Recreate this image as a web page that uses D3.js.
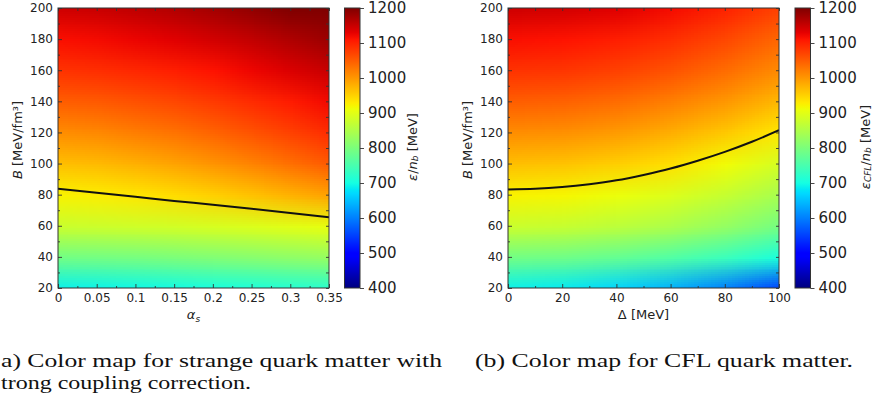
<!DOCTYPE html>
<html>
<head>
<meta charset="utf-8">
<script src="https://cdn.jsdelivr.net/npm/d3@7"></script>
<style>
  body { margin: 0; background: #fff; }
  svg { display: block; }
</style>
</head>
<body>
<div id="chart"></div>
<script>
// ---- data ----
// bag constant rows, bottom to top [MeV/fm^3]
const bRows = [20, 40, 60, 80, 100, 120, 140, 160, 180, 200]

// (a) strong coupling: alpha_s columns, eps/n_b [MeV] per column (bottom to top)
const alphaCols = [0, 0.05, 0.1, 0.15, 0.2, 0.25, 0.3, 0.35]
const epsAlpha = [
  [690, 790, 875, 922, 965, 1008, 1048, 1085, 1115, 1145],
  [692, 792, 877, 926, 970, 1012, 1052, 1089, 1119, 1149],
  [695, 795, 880, 932, 978, 1021, 1059, 1095, 1125, 1156],
  [698, 800, 883, 941, 989, 1031, 1068, 1103, 1133, 1165],
  [703, 805, 888, 951, 1002, 1043, 1079, 1113, 1143, 1175],
  [708, 811, 893, 963, 1016, 1058, 1092, 1124, 1154, 1187],
  [714, 818, 899, 976, 1033, 1073, 1105, 1137, 1167, 1201],
  [720, 825, 905, 990, 1050, 1090, 1120, 1150, 1180, 1215]
]
// 930 MeV stability line
const alphaLineX = [0, 0.05, 0.1, 0.15, 0.2, 0.25, 0.3, 0.35]
const alphaLineB = [83.8, 81.2, 78.6, 76.0, 73.5, 70.9, 68.2, 65.4]

// (b) CFL: gap columns [MeV], eps_CFL/n_b [MeV] per column (bottom to top)
const deltaCols = [0, 20, 40, 60, 80, 100]
const epsDelta = [
  [690, 790, 875, 922, 965, 1008, 1048, 1085, 1115, 1145],
  [684, 787, 872, 919, 962, 1005, 1045, 1082, 1112, 1142],
  [667, 776, 862, 909, 952, 996, 1036, 1073, 1103, 1133],
  [639, 759, 846, 893, 937, 980, 1020, 1058, 1088, 1118],
  [599, 736, 823, 871, 914, 958, 999, 1036, 1067, 1098],
  [548, 705, 793, 842, 886, 930, 971, 1009, 1040, 1071]
]
const deltaLineX = [0, 10, 20, 30, 40, 50, 60, 70, 80, 90, 100]
const deltaLineB = [83.4, 83.8, 84.9, 86.7, 89.2, 92.7, 96.8, 101.8, 107.5, 114.0, 121.4]

// ticks
const bTicks = [20, 40, 60, 80, 100, 120, 140, 160, 180, 200]
const alphaTicks = [0, 0.05, 0.1, 0.15, 0.2, 0.25, 0.3, 0.35]
const deltaTicks = [0, 20, 40, 60, 80, 100]
const cbarTicks = [400, 500, 600, 700, 800, 900, 1000, 1100, 1200]

// ---- jet colormap (matplotlib segments) ----
const chan = pts => d3.scaleLinear().domain(pts.map(p => p[0])).range(pts.map(p => p[1])).clamp(true)
const jr = chan([[0, 0], [0.35, 0], [0.66, 1], [0.89, 1], [1, 0.5]])
const jg = chan([[0, 0], [0.125, 0], [0.375, 1], [0.64, 1], [0.91, 0], [1, 0]])
const jb = chan([[0, 0.5], [0.11, 1], [0.34, 1], [0.65, 0], [1, 0]])
const norm = d3.scaleLinear().domain([400, 1200]).range([0, 1]).clamp(true)
const color = v => {
  const t = norm(v)
  return d3.rgb(jr(t) * 255, jg(t) * 255, jb(t) * 255)
}

const W = 873, H = 403
const svg = d3.select('#chart').append('svg')
  .attr('width', W).attr('height', H)
  .style('background', '#fff')

const FONT = 'DejaVu Sans'
const styleAxis = (sel, size) => {
  sel.select('.domain').remove()
  sel.selectAll('line').attr('stroke', '#333').attr('stroke-width', 0.9)
  sel.selectAll('text').attr('font-family', FONT).attr('font-size', size).attr('fill', '#222')
}
const minorOf = ticks => d3.range(ticks.length - 1).map(i => (ticks[i] + ticks[i + 1]) / 2)

const panel = o => {
  const g = svg.append('g')
  const x = d3.scaleLinear().domain(o.xDomain).range([o.left, o.left + o.w])
  const y = d3.scaleLinear().domain([20, 200]).range([o.top + o.h, o.top])

  // heat map cells painted in a tiny canvas, smoothed when stretched
  const nc = o.cols.length, nr = bRows.length
  const canvas = document.createElement('canvas')
  canvas.width = nc; canvas.height = nr
  const ctx = canvas.getContext('2d')
  const img = ctx.createImageData(nc, nr)
  o.values.forEach((col, i) => col.forEach((v, j) => {
    const c = color(v), k = ((nr - 1 - j) * nc + i) * 4
    img.data[k] = c.r; img.data[k + 1] = c.g; img.data[k + 2] = c.b; img.data[k + 3] = 255
  }))
  ctx.putImageData(img, 0, 0)

  const clipId = 'clip-' + o.id
  svg.append('clipPath').attr('id', clipId)
    .append('rect').attr('x', o.left).attr('y', o.top).attr('width', o.w).attr('height', o.h)

  const dx = (o.cols[1] - o.cols[0]) / 2, dy = (bRows[1] - bRows[0]) / 2
  const x0 = x(o.cols[0] - dx), x1 = x(o.cols[nc - 1] + dx)
  const y0 = y(bRows[nr - 1] + dy), y1 = y(bRows[0] - dy)
  g.append('g').attr('clip-path', `url(#${clipId})`)
    .append('image')
      .attr('href', canvas.toDataURL())
      .attr('x', x0).attr('y', y0)
      .attr('width', x1 - x0).attr('height', y1 - y0)
      .attr('preserveAspectRatio', 'none')

  // 930 MeV line
  const line = d3.line().x(d => x(d[0])).y(d => y(d[1])).curve(d3.curveMonotoneX)
  g.append('path')
    .datum(o.lineX.map((v, i) => [v, o.lineB[i]]))
    .attr('d', line)
    .attr('clip-path', `url(#${clipId})`)
    .attr('fill', 'none').attr('stroke', '#111').attr('stroke-width', 2)

  // axes, inward ticks on all sides
  const bottom = o.top + o.h, right = o.left + o.w
  g.append('g').attr('transform', `translate(0,${bottom})`)
    .call(d3.axisBottom(x).tickValues(o.ticks).tickFormat(d => String(d)).tickSizeInner(-4).tickSizeOuter(0).tickPadding(5))
    .call(styleAxis, 12)
  g.append('g').attr('transform', `translate(0,${bottom})`)
    .call(d3.axisBottom(x).tickValues(minorOf(o.ticks)).tickFormat('').tickSizeInner(-2).tickSizeOuter(0))
    .call(styleAxis, 12)
  g.append('g').attr('transform', `translate(0,${o.top})`)
    .call(d3.axisTop(x).tickValues(o.ticks.concat(minorOf(o.ticks))).tickFormat('').tickSizeInner(-3).tickSizeOuter(0))
    .call(styleAxis, 12)
  g.append('g').attr('transform', `translate(${o.left},0)`)
    .call(d3.axisLeft(y).tickValues(bTicks).tickFormat(d => String(d)).tickSizeInner(-4).tickSizeOuter(0).tickPadding(5))
    .call(styleAxis, 12)
  g.append('g').attr('transform', `translate(${o.left},0)`)
    .call(d3.axisLeft(y).tickValues(minorOf(bTicks)).tickFormat('').tickSizeInner(-2).tickSizeOuter(0))
    .call(styleAxis, 12)
  g.append('g').attr('transform', `translate(${right},0)`)
    .call(d3.axisRight(y).tickValues(bTicks.concat(minorOf(bTicks))).tickFormat('').tickSizeInner(-3).tickSizeOuter(0))
    .call(styleAxis, 12)
  g.append('rect')
    .attr('x', o.left).attr('y', o.top).attr('width', o.w).attr('height', o.h)
    .attr('fill', 'none').attr('stroke', '#333').attr('stroke-width', 1)

  // axis labels
  const yl = g.append('text')
    .attr('transform', `translate(${o.left - 41},140) rotate(-90)`)
    .attr('text-anchor', 'middle').attr('dominant-baseline', 'central')
    .attr('font-family', FONT).attr('font-size', 13).attr('fill', '#222')
  yl.append('tspan').attr('font-style', 'italic').text('B')
  yl.append('tspan').text(' [MeV/fm³]')

  const xl = g.append('text')
    .attr('x', o.left + o.w / 2).attr('y', 319)
    .attr('text-anchor', 'middle')
    .attr('font-family', FONT).attr('font-size', 13).attr('fill', '#222')
  o.xLabel(xl)

  // colour bar
  const cy = d3.scaleLinear().domain([400, 1200]).range([o.top + o.h, o.top])
  const gradId = 'grad-' + o.id
  const grad = svg.append('defs').append('linearGradient').attr('id', gradId)
    .attr('x1', 0).attr('y1', 1).attr('x2', 0).attr('y2', 0)
  d3.range(400, 1201, 10).forEach(v => {
    grad.append('stop').attr('offset', norm(v)).attr('stop-color', color(v).formatHex())
  })
  g.append('rect')
    .attr('x', o.cbX).attr('y', o.top).attr('width', 15.5).attr('height', o.h)
    .attr('fill', `url(#${gradId})`).attr('stroke', '#333').attr('stroke-width', 1)
  g.append('g').attr('transform', `translate(${o.cbX + 15.5},0)`)
    .call(d3.axisRight(cy).tickValues(cbarTicks).tickFormat(d => String(d)).tickSizeInner(4).tickSizeOuter(0).tickPadding(4))
    .call(styleAxis, 15)

  const cl = g.append('text')
    .attr('transform', `translate(${o.cbLabelX},147) rotate(-90)`)
    .attr('text-anchor', 'middle').attr('dominant-baseline', 'central')
    .attr('font-family', FONT).attr('font-size', 13).attr('fill', '#222')
  o.cbLabel(cl)
}

panel({
  id: 'a', left: 58, top: 8, w: 271, h: 280, xDomain: [0, 0.35],
  cols: alphaCols, values: epsAlpha, lineX: alphaLineX, lineB: alphaLineB,
  ticks: alphaTicks, cbX: 344.5, cbLabelX: 412,
  xLabel: t => {
    t.append('tspan').attr('font-style', 'italic').text('α')
    t.append('tspan').attr('font-style', 'italic').attr('font-size', 9).attr('dy', 3).text('s')
  },
  cbLabel: t => {
    t.append('tspan').attr('font-style', 'italic').text('ε')
    t.append('tspan').text('/')
    t.append('tspan').attr('font-style', 'italic').text('n')
    t.append('tspan').attr('font-style', 'italic').attr('font-size', 9).attr('dy', 3).text('b')
    t.append('tspan').attr('dy', -3).text(' [MeV]')
  }
})

panel({
  id: 'b', left: 508, top: 8, w: 271, h: 280, xDomain: [0, 100],
  cols: deltaCols, values: epsDelta, lineX: deltaLineX, lineB: deltaLineB,
  ticks: deltaTicks, cbX: 795, cbLabelX: 865,
  xLabel: t => t.text('Δ [MeV]'),
  cbLabel: t => {
    t.append('tspan').attr('font-style', 'italic').text('ε')
    t.append('tspan').attr('font-style', 'italic').attr('font-size', 9).attr('dy', 3).text('CFL')
    t.append('tspan').attr('dy', -3).text('/')
    t.append('tspan').attr('font-style', 'italic').text('n')
    t.append('tspan').attr('font-style', 'italic').attr('font-size', 9).attr('dy', 3).text('b')
    t.append('tspan').attr('dy', -3).text(' [MeV]')
  }
})

// captions (left one is cropped in the source figure)
const cap = svg.append('g')
  .attr('font-family', 'Liberation Serif').attr('font-size', 19).attr('fill', '#111')
cap.append('text').attr('x', 1).attr('y', 366.5)
  .attr('textLength', 441).attr('lengthAdjust', 'spacingAndGlyphs')
  .text('a) Color map for strange quark matter with')
cap.append('text').attr('x', 1).attr('y', 389)
  .attr('textLength', 250).attr('lengthAdjust', 'spacingAndGlyphs')
  .text('trong coupling correction.')
cap.append('text').attr('x', 475).attr('y', 366.5)
  .attr('textLength', 378).attr('lengthAdjust', 'spacingAndGlyphs')
  .text('(b) Color map for CFL quark matter.')
</script>
</body>
</html>
